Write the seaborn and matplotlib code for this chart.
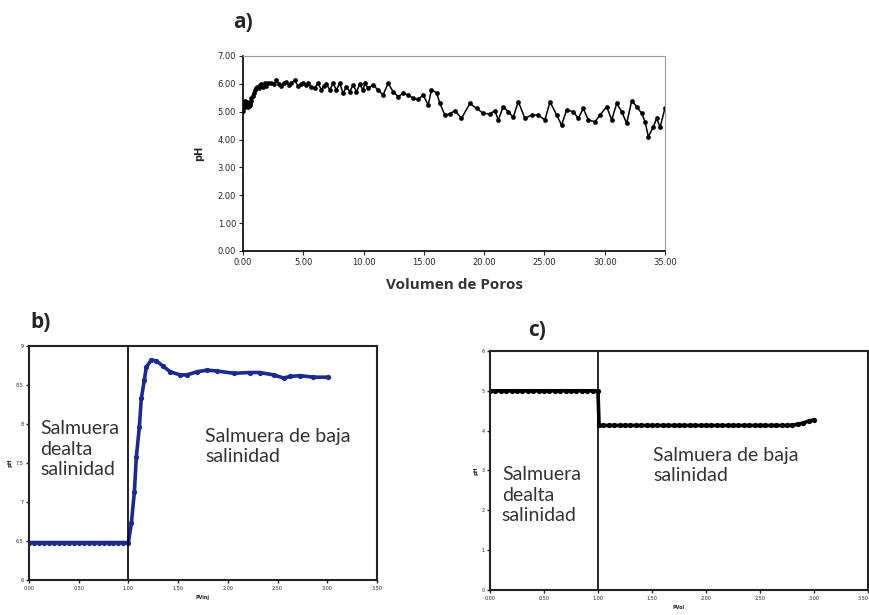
import matplotlib
matplotlib.use('Agg')
import matplotlib.pyplot as plt
import pandas as pd
import seaborn as sns

# Panel a) pH vs pore volumes
ph_x = [0.00, 0.05, 0.10, 0.15, 0.20, 0.25, 0.30, 0.35, 0.40, 0.45,
        0.50, 0.55, 0.60, 0.65, 0.70, 0.80, 0.90, 1.00, 1.10, 1.20,
        1.30, 1.40, 1.50, 1.60, 1.70, 1.80, 1.94, 2.10, 2.35, 2.55,
        2.77, 3.00, 3.18, 3.40, 3.60, 3.80, 4.00, 4.29, 4.57, 4.80,
        4.98, 5.20, 5.40, 5.67, 5.95, 6.23, 6.50, 6.70, 6.92, 7.20,
        7.47, 7.75, 8.02, 8.30, 8.58, 8.85, 9.13, 9.41, 9.68, 9.96,
        10.10, 10.38, 10.79, 11.20, 11.62, 12.04, 12.45, 12.87, 13.28, 13.70,
        14.11, 14.53, 14.94, 15.36, 15.63, 16.05, 16.33, 16.74, 17.16, 17.57,
        18.12, 18.82, 19.37, 19.92, 20.48, 20.89, 21.17, 21.58, 22.00, 22.41,
        22.83, 23.38, 23.93, 24.49, 25.04, 25.46, 26.01, 26.42, 26.84, 27.39,
        27.81, 28.22, 28.64, 29.19, 29.61, 30.16, 30.58, 30.99, 31.41, 31.82,
        32.24, 32.65, 33.07, 33.34, 33.62, 34.03, 34.31, 34.59, 34.99]
ph_y = [5.02, 5.35, 5.22, 5.38, 5.18, 5.30, 5.20, 5.34, 5.16, 5.28,
        5.20, 5.32, 5.25, 5.40, 5.48, 5.58, 5.68, 5.78, 5.84, 5.90,
        5.86, 5.96, 6.00, 5.94, 5.90, 6.02, 5.92, 6.02, 6.02, 5.98,
        6.12, 6.00, 5.92, 6.02, 6.08, 5.96, 6.02, 6.12, 5.92, 5.98,
        6.04, 5.96, 6.02, 5.90, 5.86, 6.02, 5.78, 5.92, 6.00, 5.78,
        6.02, 5.78, 6.02, 5.66, 5.90, 5.72, 5.96, 5.72, 5.98, 5.78,
        6.02, 5.84, 5.96, 5.78, 5.60, 6.02, 5.72, 5.54, 5.66, 5.60,
        5.48, 5.44, 5.60, 5.24, 5.78, 5.68, 5.30, 4.88, 4.92, 5.04,
        4.76, 5.30, 5.12, 4.94, 4.92, 5.04, 4.70, 5.18, 5.00, 4.80,
        5.36, 4.76, 4.88, 4.88, 4.70, 5.36, 4.88, 4.52, 5.06, 5.00,
        4.76, 5.12, 4.70, 4.64, 4.88, 5.18, 4.70, 5.30, 5.00, 4.58,
        5.40, 5.18, 4.94, 4.64, 4.10, 4.46, 4.76, 4.44, 5.12]
ph_ticks_x = [0, 5, 10, 15, 20, 25, 30, 35]
ph_ticks_y = [0, 1, 2, 3, 4, 5, 6, 7]

# Panel b)
b_x = [0.00, 0.05, 0.10, 0.15, 0.20, 0.25, 0.30, 0.35, 0.40, 0.45,
       0.50, 0.55, 0.60, 0.65, 0.70, 0.75, 0.80, 0.85, 0.90, 0.95,
       1.00, 1.03, 1.06, 1.08, 1.11, 1.13, 1.16, 1.18, 1.23, 1.28,
       1.35, 1.42, 1.52, 1.59, 1.69, 1.79, 1.89, 2.06, 2.22, 2.32,
       2.46, 2.56, 2.63, 2.73, 2.86, 3.01]
b_y = [6.48, 6.48, 6.48, 6.48, 6.48, 6.48, 6.48, 6.48, 6.48, 6.48,
       6.48, 6.48, 6.48, 6.48, 6.48, 6.48, 6.48, 6.48, 6.48, 6.48,
       6.48, 6.73, 7.13, 7.58, 7.96, 8.33, 8.56, 8.73, 8.82, 8.81,
       8.74, 8.67, 8.63, 8.63, 8.67, 8.69, 8.68, 8.65, 8.66, 8.66,
       8.63, 8.59, 8.61, 8.62, 8.60, 8.60]
b_ticks_y = [6.0, 6.5, 7.0, 7.5, 8.0, 8.5, 9.0]

# Panel c)
c_x = [0.00, 0.05, 0.10, 0.15, 0.20, 0.25, 0.30, 0.35, 0.40, 0.45,
       0.50, 0.55, 0.60, 0.65, 0.70, 0.75, 0.80, 0.85, 0.90, 0.95,
       1.00, 1.01, 1.05, 1.10, 1.15, 1.20, 1.25, 1.30, 1.35, 1.40,
       1.45, 1.50, 1.55, 1.60, 1.65, 1.70, 1.75, 1.80, 1.85, 1.90,
       1.95, 2.00, 2.05, 2.10, 2.15, 2.20, 2.25, 2.30, 2.35, 2.40,
       2.45, 2.50, 2.55, 2.60, 2.65, 2.70, 2.75, 2.80, 2.85, 2.90,
       2.95, 3.00]
c_y = [5.00, 5.00, 5.00, 5.00, 5.00, 5.00, 5.00, 5.00, 5.00, 5.00,
       5.00, 5.00, 5.00, 5.00, 5.00, 5.00, 5.00, 5.00, 5.00, 5.00,
       5.00, 4.13, 4.13, 4.13, 4.13, 4.13, 4.13, 4.13, 4.13, 4.13,
       4.13, 4.13, 4.13, 4.13, 4.13, 4.13, 4.13, 4.13, 4.13, 4.13,
       4.13, 4.13, 4.13, 4.13, 4.13, 4.13, 4.13, 4.13, 4.13, 4.13,
       4.13, 4.13, 4.13, 4.13, 4.13, 4.13, 4.13, 4.14, 4.16, 4.19,
       4.24, 4.27]
c_ticks_y = [0, 1, 2, 3, 4, 5, 6]

small_ticks_x = [0.0, 0.5, 1.0, 1.5, 2.0, 2.5, 3.0, 3.5]
switch_pv = 1.0

sns.set_style('ticks')
plt.rcParams['font.family'] = ['DejaVu Sans']

fig = plt.figure(figsize=(8.7, 6.15), dpi=100)

# ---- a)
ax_a = fig.add_axes([0.2793, 0.5919, 0.4851, 0.3171])
df_a = pd.DataFrame({'pv': ph_x, 'ph': ph_y})
sns.lineplot(data=df_a, x='pv', y='ph', ax=ax_a, color='black', lw=1.1,
             marker='o', markersize=3.4, markeredgewidth=0, sort=False)
ax_a.set_xlim(0, 35)
ax_a.set_ylim(0, 7)
ax_a.set_xticks(ph_ticks_x)
ax_a.set_yticks(ph_ticks_y)
ax_a.set_xticklabels([f'{v:.2f}' for v in ph_ticks_x])
ax_a.set_yticklabels([f'{v:.2f}' for v in ph_ticks_y])
ax_a.tick_params(labelsize=6, colors='#222233', length=3, width=0.8, pad=2)
for s in ['left', 'bottom']:
    ax_a.spines[s].set_color('black')
    ax_a.spines[s].set_linewidth(1.2)
for s in ['top', 'right']:
    ax_a.spines[s].set_visible(True)
    ax_a.spines[s].set_color('#9a9a9a')
    ax_a.spines[s].set_linewidth(0.8)
ax_a.set_xlabel('Volumen de Poros', fontsize=11, fontweight='bold',
                color='#333333', labelpad=8, family=['Open Sans', 'DejaVu Sans'])
ax_a.set_ylabel('pH', fontsize=7, fontweight='bold', color='#222233', labelpad=10)
fig.text(233 / 870, 1 - 22 / 615, 'a)', fontsize=15, fontweight='bold',
         va='center', ha='left', family=['Open Sans', 'DejaVu Sans'])

txt_kw = dict(fontsize=14, color='#333333', va='top', ha='left',
              linespacing=1.25, family=['Lato', 'DejaVu Sans'])


def small_panel(ax, xs, ys, yticks, color, xlabel):
    df = pd.DataFrame({'pv': xs, 'val': ys})
    sns.lineplot(data=df, x='pv', y='val', ax=ax, color=color, lw=2.6,
                 marker='o', markersize=3.8, markeredgewidth=0, sort=False)
    ax.axvline(switch_pv, color='black', lw=1.2)
    ax.set_xlim(0, 3.5)
    ax.set_ylim(yticks[0], yticks[-1])
    ax.set_xticks(small_ticks_x)
    ax.set_yticks(yticks)
    ax.set_xticklabels([f'{v:.2f}' for v in small_ticks_x])
    ax.set_yticklabels([f'{v:g}' for v in yticks])
    ax.tick_params(labelsize=3.5, length=2.5, width=1, pad=1.5)
    for s in ax.spines.values():
        s.set_visible(True)
        s.set_color('#222222')
        s.set_linewidth(1.5)
    ax.set_xlabel(xlabel, fontsize=3.5, fontweight='bold', labelpad=3)
    ax.set_ylabel('pH', fontsize=4, fontweight='bold', labelpad=2)


# ---- b)
ax_b = fig.add_axes([0.0333, 0.0569, 0.4000, 0.3805])
small_panel(ax_b, b_x, b_y, b_ticks_y, '#1c2a8c', 'PVinj')
ax_b.text(0.11, 8.05, 'Salmuera\ndealta\nsalinidad', **txt_kw)
ax_b.text(1.77, 7.95, 'Salmuera de baja\nsalinidad', **txt_kw)
fig.text(30 / 870, 1 - 322 / 615, 'b)', fontsize=15, fontweight='bold',
         va='center', ha='left', family=['Open Sans', 'DejaVu Sans'])

# ---- c)
ax_c = fig.add_axes([0.5632, 0.0407, 0.4345, 0.3886])
small_panel(ax_c, c_x, c_y, c_ticks_y, 'black', 'PVol')
ax_c.get_xticklabels()[-1].set_ha('right')
ax_c.text(0.11, 3.1, 'Salmuera\ndealta\nsalinidad', **txt_kw)
ax_c.text(1.51, 3.6, 'Salmuera de baja\nsalinidad', **txt_kw)
fig.text(528 / 870, 1 - 330 / 615, 'c)', fontsize=15, fontweight='bold',
         va='center', ha='left', family=['Open Sans', 'DejaVu Sans'])

fig.savefig('out.png', dpi=100)
